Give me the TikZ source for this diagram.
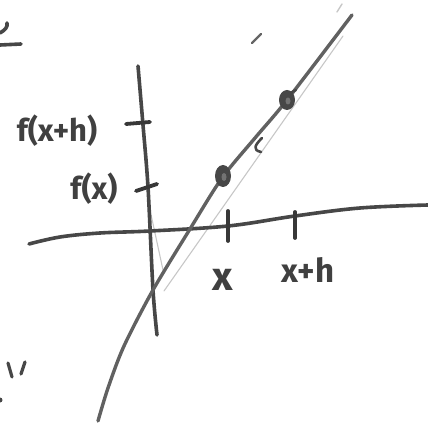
\documentclass[tikz,border=0pt]{standalone}
\usepackage{fontspec}
\setmainfont{Fira Sans}
\begin{document}
\begin{tikzpicture}[x=1pt,y=-1pt,
  ink/.style={line width=3.6pt, draw=black!72, line cap=round, line join=round},
  curveink/.style={line width=3.4pt, draw=black!62, line cap=round, line join=round},
  tickink/.style={line width=3.8pt, draw=black!78, line cap=round},
  faint/.style={line width=1.1pt, draw=black!22, line cap=round},
  lbl/.style={text=black!75, inner sep=0pt, font=\bfseries}]
\useasboundingbox (0,0) rectangle (428,427);
% top-left fragments
\draw[ink] (0,33) .. controls (5,30) and (8,27) .. (7,23);
\draw[ink] (0,45) -- (21,44);
% small dashes at top
\draw[ink, line width=2.4pt, draw=black!60] (252,43) -- (261,34);
\draw[faint, line width=1.4pt] (337,12) -- (342,4);
% light secant line
\draw[faint] (164,291) -- (343,36);
\draw[faint] (150,210) -- (163,270);
% x-axis
\draw[ink] plot[smooth, tension=0.6] coordinates {(29,244) (60,237) (100,233) (150,231) (228,226) (295,216) (360,208) (428,205)};
% y-axis
\draw[ink] plot[smooth] coordinates {(138,66) (143,125) (148,187) (153,290) (157,335)};
% ticks on y-axis
\draw[tickink] (126,124) -- (150,122);
\draw[tickink] (136,191) -- (157,184);
% ticks on x-axis
\draw[tickink] (228,211) -- (228,241);
\draw[tickink] (295,212) -- (295,238);
% main curve
\draw[curveink] plot[smooth] coordinates {(98,421) (108,388) (124,346) (153,290) (190,229) (222,178) (255,138) (287,100) (352,15)};
% hook
\draw[ink, line width=2.6pt] (262,138) .. controls (255,145) and (252,150) .. (261,152);
\draw[ink, line width=2.4pt] (288,94) -- (296,90);
% points
\fill[black!72] (223,176) ellipse [x radius=8pt, y radius=11pt];
\fill[black!72] (287,100) ellipse [x radius=8pt, y radius=10pt];
\fill[black!55] (224,177) ellipse [x radius=2.5pt, y radius=4pt];
\fill[black!55] (288,101) ellipse [x radius=2.5pt, y radius=3.5pt];
% labels
\node[lbl, font=\bfseries\fontsize{31}{31}\selectfont] (fxh) at (57,131) {f(x+h)};
\node[lbl, font=\bfseries\fontsize{31}{31}\selectfont] (fx) at (94,189) {f(x)};
\node[lbl, font=\bfseries\fontsize{40}{40}\selectfont] (lx) at (223,280) {x};
\node[lbl, font=\bfseries\fontsize{33}{33}\selectfont] (lxh) at (308,270) {x+h};
% quote marks bottom-left
\draw[ink, line width=3.2pt] (8,363) -- (12,377);
\draw[ink, line width=3.2pt] (25,362) -- (21,374);
\fill[black!72] (0,400) circle (2.5pt);
\end{tikzpicture}
\end{document}
